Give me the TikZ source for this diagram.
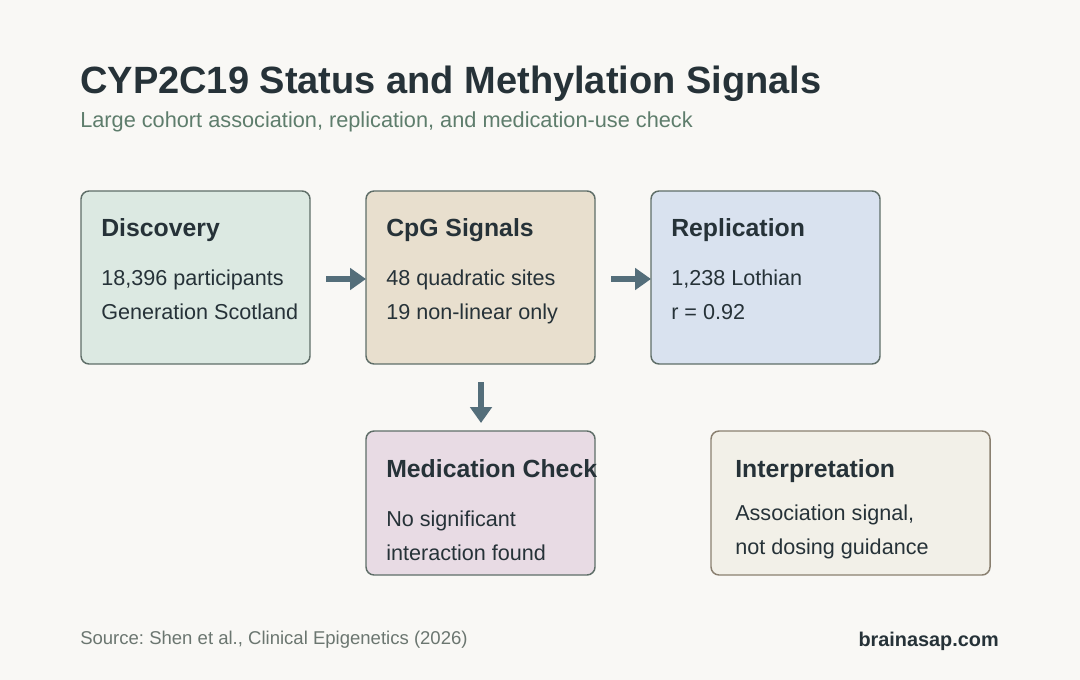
\documentclass[tikz,border=0pt]{standalone}
\usepackage{fontspec}
\setmainfont{Liberation Sans}
\usetikzlibrary{arrows.meta}
\definecolor{bg}{HTML}{F9F8F5}
\definecolor{ink}{HTML}{263238}
\definecolor{sub}{HTML}{5E7D6C}
\definecolor{foot}{HTML}{6B7670}
\definecolor{edge}{HTML}{5F6E68}
\definecolor{edgeb}{HTML}{8A8070}
\definecolor{arr}{HTML}{546E7A}
\definecolor{fA}{HTML}{DCE9E2}
\definecolor{fB}{HTML}{E8DFCE}
\definecolor{fC}{HTML}{D9E2EF}
\definecolor{fD}{HTML}{E8DBE4}
\definecolor{fE}{HTML}{F2F0E8}
\frenchspacing
\begin{document}
\begin{tikzpicture}[x=0.75pt,y=-0.75pt,
  card/.style={draw=edge,line width=1.1pt,rounded corners=6pt},
  head/.style={anchor=base west,inner sep=0,font=\fontsize{18.6pt}{21pt}\selectfont\bfseries,text=ink},
  body/.style={anchor=base west,inner sep=0,font=\fontsize{16.2pt}{19pt}\selectfont,text=ink},
  flow/.style={draw=arr,line width=3.8pt,-{Triangle[length=12pt,width=16pt]}}]
\useasboundingbox[fill=bg] (0,0) rectangle (1080,680);
\node[anchor=base west,inner sep=0,font=\fontsize{28.5pt}{32pt}\selectfont\bfseries,text=ink] (title) at (80,94) {CYP2C19 Status and Methylation Signals};
\node[anchor=base west,inner sep=0,font=\fontsize{16.3pt}{19pt}\selectfont,text=sub] (subtitle) at (80,128) {Large cohort association, replication, and medication-use check};
% cards
\draw[card,fill=fA] (81,191) rectangle (310,364);
\coordinate (dE) at (310,279);
\draw[card,fill=fB] (366,191) rectangle (595,364);
\coordinate (cW) at (366,279);
\coordinate (cE) at (595,279);
\coordinate (cS) at (481,364);
\draw[card,fill=fC] (651,191) rectangle (880,364);
\coordinate (rW) at (651,279);
\draw[card,fill=fD] (366,431) rectangle (595,575);
\coordinate (mN) at (481,431);
\draw[card,draw=edgeb,fill=fE] (711,431) rectangle (990,575);
% texts
\node[head] (h1) at (101,237) {Discovery};
\node[body] (b1a) at (101,286) {18,396 participants};
\node[body] (b1b) at (101,320) {Generation Scotland};
\node[head] (h2) at (386,237) {CpG Signals};
\node[body] (b2a) at (386,286) {48 quadratic sites};
\node[body] (b2b) at (386,320) {19 non-linear only};
\node[head] (h3) at (671,237) {Replication};
\node[body] (b3a) at (671,286) {1,238 Lothian};
\node[body] (b3b) at (671,320) {r = 0.92};
\node[head] (h4) at (386,477) {Medication Check};
\node[body] (b4a) at (386,526) {No significant};
\node[body] (b4b) at (386,560) {interaction found};
\node[head] (h5) at (735,477) {Interpretation};
\node[body] (b5a) at (735,520) {Association signal,};
\node[body] (b5b) at (735,554) {not dosing guidance};
% arrows
\draw[flow] ([xshift=12pt]dE) -- (cW);
\draw[flow] ([xshift=12pt]cE) -- (rW);
\draw[flow] ([yshift=-13.5pt]cS) -- ([yshift=6pt]mN);
% footer
\node[anchor=base west,inner sep=0,font=\fontsize{13.9pt}{16pt}\selectfont,text=foot] (src) at (80,644) {Source: Shen et al., Clinical Epigenetics (2026)};
\node[anchor=base east,inner sep=0,font=\fontsize{14.9pt}{17pt}\selectfont\bfseries,text=ink] (brand) at (999,646) {brainasap.com};
\end{tikzpicture}
\end{document}
